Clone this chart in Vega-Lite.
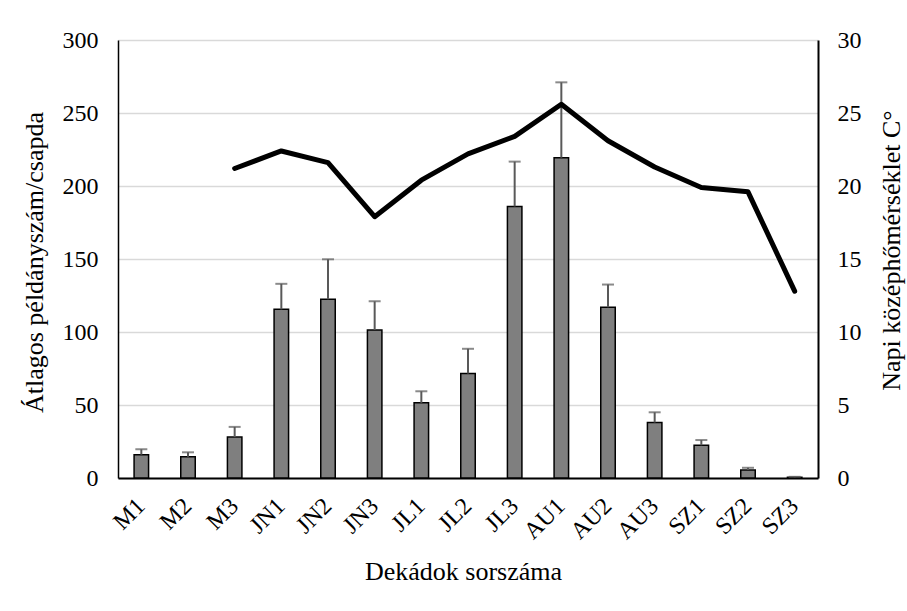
{
  "$schema": "https://vega.github.io/schema/vega-lite/v6.json",
  "width": 700,
  "height": 438,
  "autosize": {"type": "none"},
  "padding": {"left": 118, "top": 40, "right": 89, "bottom": 133},
  "background": "white",
  "config": {
    "view": {"stroke": null},
    "font": "Liberation Serif",
    "axis": {
      "labelFont": "Liberation Serif",
      "titleFont": "Liberation Serif",
      "labelColor": "#000000",
      "titleColor": "#000000",
      "titleFontWeight": "normal"
    }
  },
  "data": {
    "values": [
      {"dekad": "M1", "atlag": 16, "felso": 19.7, "homerseklet": null},
      {"dekad": "M2", "atlag": 14.5, "felso": 17.6, "homerseklet": null},
      {"dekad": "M3", "atlag": 28, "felso": 35, "homerseklet": 21.2},
      {"dekad": "JN1", "atlag": 115.5, "felso": 133, "homerseklet": 22.4},
      {"dekad": "JN2", "atlag": 122.4, "felso": 149.8, "homerseklet": 21.6},
      {"dekad": "JN3", "atlag": 101.4, "felso": 121, "homerseklet": 17.9},
      {"dekad": "JL1", "atlag": 51.5, "felso": 59.4, "homerseklet": 20.4},
      {"dekad": "JL2", "atlag": 71.5, "felso": 88.5, "homerseklet": 22.2},
      {"dekad": "JL3", "atlag": 186, "felso": 216.7, "homerseklet": 23.4},
      {"dekad": "AU1", "atlag": 219.4, "felso": 271, "homerseklet": 25.6},
      {"dekad": "AU2", "atlag": 117, "felso": 132.5, "homerseklet": 23.1},
      {"dekad": "AU3", "atlag": 38, "felso": 45, "homerseklet": 21.3},
      {"dekad": "SZ1", "atlag": 22.4, "felso": 26, "homerseklet": 19.9},
      {"dekad": "SZ2", "atlag": 5.5, "felso": 7, "homerseklet": 19.6},
      {"dekad": "SZ3", "atlag": 0.5, "felso": 0.8, "homerseklet": 12.8}
    ]
  },
  "encoding": {
    "x": {
      "field": "dekad",
      "type": "nominal",
      "sort": null,
      "scale": {"paddingInner": 0, "paddingOuter": 0},
      "axis": {
        "title": "Dekádok sorszáma",
        "labelAngle": -45,
        "labelAlign": "right",
        "labelBaseline": "middle",
        "labelFontSize": 24,
        "labelPadding": 24,
        "ticks": false,
        "tickSize": 0,
        "domain": true,
        "domainColor": "#000000",
        "domainWidth": 2,
        "grid": false,
        "titleFontSize": 26,
        "titleX": 345,
        "titleY": 101,
        "titleAlign": "center",
        "titleBaseline": "alphabetic"
      }
    }
  },
  "layer": [
    {
      "mark": {"type": "bar", "size": 14.5, "fill": "#7f7f7f", "stroke": "#000000", "strokeWidth": 1.5},
      "encoding": {
        "y": {
          "field": "atlag",
          "type": "quantitative",
          "scale": {"domain": [0, 300], "nice": false},
          "axis": {
            "title": "Átlagos példányszám/csapda",
            "values": [0, 50, 100, 150, 200, 250, 300],
            "grid": true,
            "gridColor": "#d9d9d9",
            "gridWidth": 1.5,
            "ticks": false,
            "domain": true,
            "domainColor": "#000000",
            "domainWidth": 1.5,
            "labelFontSize": 24,
            "labelPadding": 20,
            "titleFontSize": 26,
            "titleX": -76,
            "titleY": 222,
            "titleAngle": -90,
            "titleAlign": "center",
            "titleBaseline": "alphabetic"
          }
        }
      }
    },
    {
      "mark": {"type": "rule", "color": "#595959", "strokeWidth": 2},
      "encoding": {
        "y": {"field": "atlag", "type": "quantitative", "scale": {"domain": [0, 300], "nice": false}, "axis": null},
        "y2": {"field": "felso"}
      }
    },
    {
      "mark": {"type": "tick", "color": "#595959", "size": 12, "thickness": 2},
      "encoding": {
        "y": {"field": "felso", "type": "quantitative", "scale": {"domain": [0, 300], "nice": false}, "axis": null}
      }
    },
    {
      "transform": [{"filter": "datum.homerseklet != null"}],
      "mark": {"type": "line", "color": "#000000", "strokeWidth": 5, "strokeCap": "round", "strokeJoin": "round"},
      "encoding": {
        "y": {
          "field": "homerseklet",
          "type": "quantitative",
          "scale": {"domain": [0, 30], "nice": false},
          "axis": {
            "orient": "right",
            "title": "Napi középhőmérséklet C°",
            "values": [0, 5, 10, 15, 20, 25, 30],
            "grid": false,
            "ticks": false,
            "domain": true,
            "domainColor": "#000000",
            "domainWidth": 2,
            "labelFontSize": 24,
            "labelPadding": 19,
            "titleFontSize": 26,
            "titleX": 81,
            "titleY": 210,
            "titleAngle": -90,
            "titleAlign": "center",
            "titleBaseline": "alphabetic"
          }
        }
      }
    }
  ],
  "resolve": {"scale": {"y": "independent"}, "axis": {"y": "independent"}}
}
